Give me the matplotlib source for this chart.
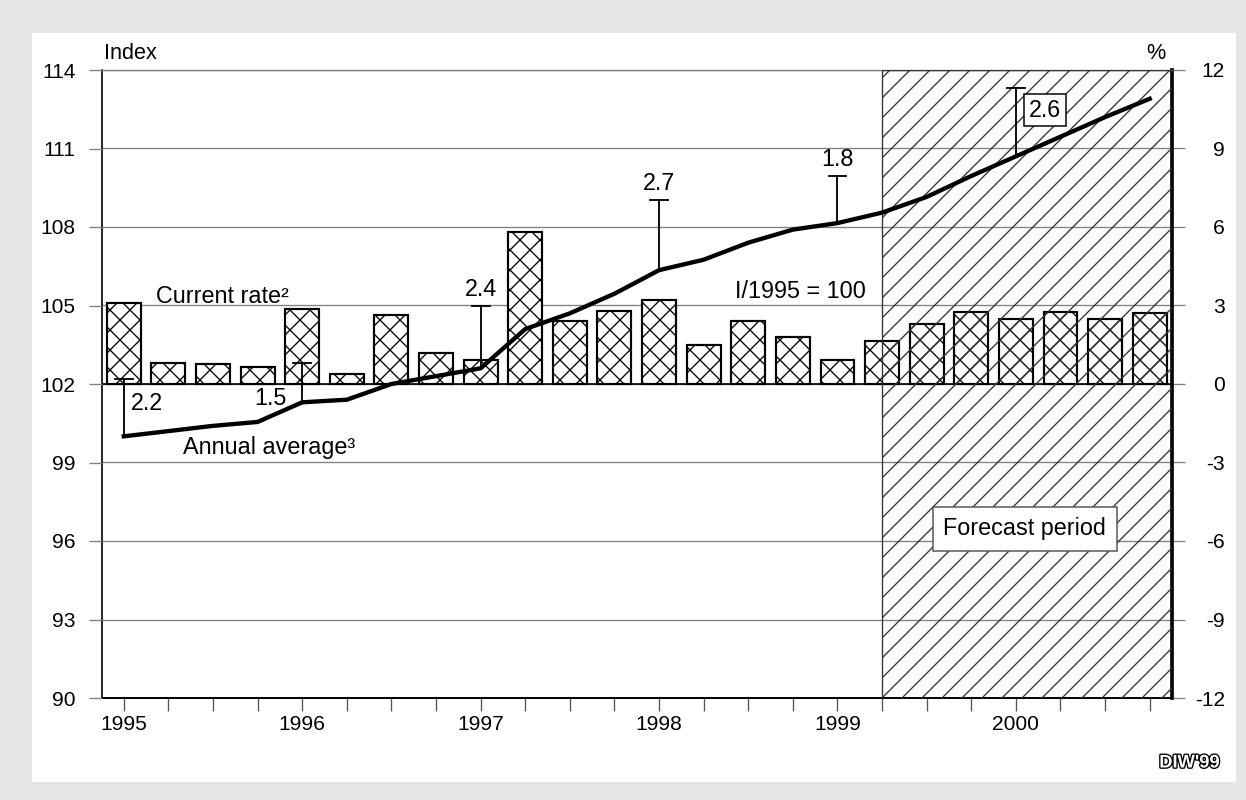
import matplotlib.pyplot as plt
from matplotlib.patches import Rectangle
import matplotlib.patheffects as pe

plt.rcParams['font.family'] = ['Liberation Sans', 'DejaVu Sans']
plt.rcParams['hatch.linewidth'] = 0.8

# quarters 1995 Q1 .. 2000 Q4
quarters = list(range(24))
year_ticks = [0, 4, 8, 12, 16, 20]
year_labels = ['1995', '1996', '1997', '1998', '1999', '2000']

# current rate (%), right axis
current_rate = [3.1, 0.8, 0.75, 0.65, 2.85, 0.4, 2.65, 1.2,
                0.9, 5.8, 2.4, 2.8, 3.2, 1.5, 2.4, 1.8,
                0.9, 1.65, 2.3, 2.75, 2.5, 2.75, 2.5, 2.7]
# index I/1995 = 100, left axis
index_vals = [100.0, 100.2, 100.4, 100.55, 101.3, 101.4, 102.0, 102.3,
              102.6, 104.1, 104.7, 105.45, 106.35, 106.75, 107.4, 107.9,
              108.15, 108.55, 109.15, 109.95, 110.7, 111.45, 112.2, 112.9]
# annual average growth, drawn at the first quarter of each year
annual_avg = [2.2, 1.5, 2.4, 2.7, 1.8, 2.6]
forecast_start = 17

left_ticks = list(range(90, 115, 3))
right_ticks = list(range(-12, 13, 3))

fig = plt.figure(figsize=(1246 / 120, 800 / 120), dpi=120, facecolor='#e5e5e5')
fig.patches.append(Rectangle((32 / 1246, 18 / 800), 1204 / 1246, 749 / 800,
                             transform=fig.transFigure, facecolor='white',
                             edgecolor='none', zorder=-5))

ax = fig.add_axes([101.5 / 1246, 102 / 800, 1070.5 / 1246, 628 / 800])
axL = ax.twinx()

ax.set_xlim(-0.5, 23.5)
ax.set_ylim(-12, 12)
ax.set_axisbelow(True)
ax.grid(axis='y', color='#808080', lw=0.8)
ax.axhline(0, color='black', lw=1, zorder=1)

ax.bar(quarters, current_rate, width=0.76, facecolor='white', edgecolor='black',
       hatch='xx', lw=1.3, zorder=2)
ax.add_patch(Rectangle((forecast_start, -12), 23.5 - forecast_start, 24,
                       facecolor='none', edgecolor='#333333', hatch='//',
                       lw=0.8, zorder=3))

ax.yaxis.tick_right()
ax.set_yticks(right_ticks, labels=[str(t) for t in right_ticks], ha='right')
ax.tick_params(axis='y', left=False, labelleft=False, right=True, labelright=True,
               direction='out', length=7.8, width=0.8, color='#808080',
               labelsize=12.6, pad=24)
ax.set_xticks(quarters, labels=[year_labels[year_ticks.index(q)] if q in year_ticks else ''
                                for q in quarters])
ax.tick_params(axis='x', direction='out', length=8, width=0.8, color='#555555',
               labelsize=12.6, pad=2)
ax.spines['left'].set_linewidth(1)
ax.spines['bottom'].set_linewidth(1.2)
ax.spines['right'].set_linewidth(2.2)
ax.spines['top'].set_color('#808080')
ax.spines['top'].set_linewidth(0.8)

axL.set_ylim(90, 114)
axL.yaxis.tick_left()
axL.set_yticks(left_ticks, labels=[str(t) for t in left_ticks])
axL.tick_params(axis='y', left=True, labelleft=True, right=False, labelright=False,
                direction='out', length=7.8, width=0.8, color='#808080',
                labelsize=12.6, pad=7.8)
for s in axL.spines.values():
    s.set_visible(False)

axL.plot(quarters, index_vals, color='black', lw=2.6, zorder=5, solid_joinstyle='round')

for pos, val in zip(year_ticks, annual_avg):
    base = index_vals[pos]
    top = base + val
    axL.plot([pos, pos], [base, top], color='black', lw=1.1, zorder=4)
    axL.plot([pos - 0.2, pos + 0.2], [top, top], color='black', lw=1.1, zorder=4)

axL.text(0.15, 101.25, '2.2', fontsize=14, ha='left', va='center')
axL.text(3.66, 101.43, '1.5', fontsize=14, ha='right', va='center')
for pos, val in zip(year_ticks[2:5], annual_avg[2:5]):
    axL.annotate(f'{val}', (pos, index_vals[pos] + val), xytext=(0, 3),
                 textcoords='offset points', ha='center', va='bottom', fontsize=14)
axL.text(20.65, 112.47, '2.6', fontsize=14, ha='center', va='center', zorder=6,
         bbox=dict(boxstyle='square,pad=0.2', facecolor='white', edgecolor='black', lw=0.9))

axL.text(0.72, 105.36, 'Current rate²', fontsize=14, ha='left', va='center')
axL.text(1.33, 99.56, 'Annual average³', fontsize=14, ha='left', va='center')
axL.text(13.71, 105.53, 'I/1995 = 100', fontsize=14, ha='left', va='center')
axL.text(20.2, 96.46, 'Forecast period', fontsize=14, ha='center', va='center', zorder=6,
         bbox=dict(boxstyle='square,pad=0.45', facecolor='white', edgecolor='#555555', lw=0.9))

ax.text(0.002, 1.027, 'Index', transform=ax.transAxes, fontsize=13, ha='left', va='center')
ax.text(0.9935, 1.027, '%', transform=ax.transAxes, fontsize=13, ha='right', va='center')
fig.text(1220 / 1246, 1 - 763 / 800, "DIW'99", ha='right', va='center', fontsize=11,
         fontweight='bold', color='white',
         path_effects=[pe.withStroke(linewidth=1.6, foreground='black')])

fig.savefig('out.png', dpi=120, facecolor=fig.get_facecolor())
